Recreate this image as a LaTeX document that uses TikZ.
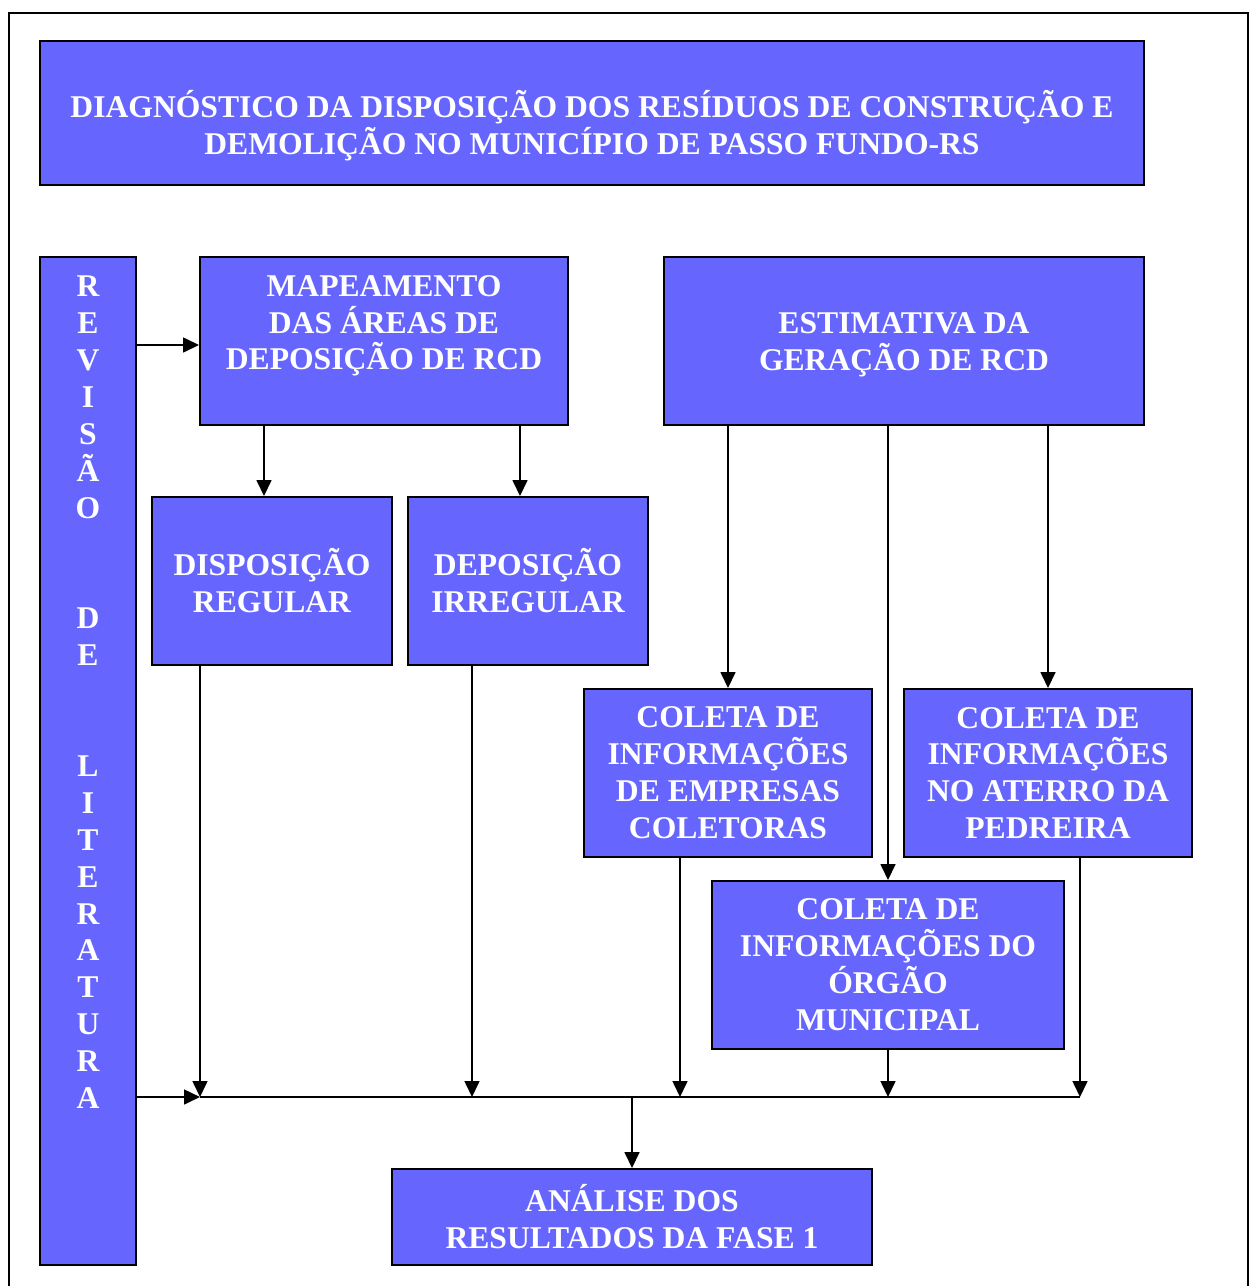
\documentclass[tikz,border=0pt]{standalone}
\usepackage{fontspec}
\setmainfont{Liberation Serif}
\usetikzlibrary{arrows.meta}
\definecolor{azul}{HTML}{6666FF}

\begin{document}
\begin{tikzpicture}[
    caixa/.style={fill=azul,draw=black,line width=1.1pt,text=white,align=center,inner sep=0pt,
        font=\fontsize{18}{21}\selectfont\bfseries},
    seta/.style={-{Triangle[length=0.32cm,width=0.3cm]},line width=0.9pt}]
            \useasboundingbox (0,0) rectangle (25,-25.72);
            \draw[line width=1.1pt] (0.18,-26.5) rectangle (24.96,-0.26);

            \node[caixa,minimum width=22.08cm,minimum height=2.88cm] (titulo) at (11.84,-2.26)
                {\rule{0pt}{30pt}DIAGNÓSTICO DA DISPOSIÇÃO DOS RESÍDUOS DE CONSTRUÇÃO E\\ DEMOLIÇÃO NO MUNICÍPIO DE PASSO FUNDO-RS};
            \node[caixa,minimum width=1.92cm,minimum height=20.16cm] (revisao) at (1.76,-15.22)
                {\rule{0pt}{17.5pt}R\\E\\V\\I\\S\\Ã\\O\\ \mbox{}\\ \mbox{}\\D\\E\\ \mbox{}\\ \mbox{}\\L\\I\\T\\E\\R\\A\\T\\U\\R\\A\\ \mbox{}\\ \mbox{}\\ \mbox{}\\ \mbox{}};
            \node[caixa,minimum width=7.36cm,minimum height=3.36cm] (mapeamento) at (7.68,-6.82)
                {MAPEAMENTO\\ DAS ÁREAS DE\\ DEPOSIÇÃO DE RCD\\ \mbox{}};
            \node[caixa,minimum width=9.6cm,minimum height=3.36cm] (estimativa) at (18.08,-6.82)
                {\rule{0pt}{16.5pt}ESTIMATIVA DA\\ GERAÇÃO DE RCD};
            \node[caixa,minimum width=4.8cm,minimum height=3.36cm] (disposicao) at (5.44,-11.62)
                {DISPOSIÇÃO\\ REGULAR};
            \node[caixa,minimum width=4.8cm,minimum height=3.36cm] (deposicao) at (10.56,-11.62)
                {DEPOSIÇÃO\\ IRREGULAR};
            \node[caixa,minimum width=5.76cm,minimum height=3.36cm] (empresas) at (14.56,-15.46)
                {COLETA DE\\ INFORMAÇÕES\\ DE EMPRESAS\\ COLETORAS};
            \node[caixa,minimum width=5.76cm,minimum height=3.36cm] (aterro) at (20.96,-15.46)
                {COLETA DE\\ INFORMAÇÕES\\ NO ATERRO DA\\ PEDREIRA};
            \node[caixa,minimum width=7.04cm,minimum height=3.36cm] (orgao) at (17.76,-19.3)
                {COLETA DE\\ INFORMAÇÕES DO\\ ÓRGÃO\\ MUNICIPAL};
            \node[caixa,minimum width=9.6cm,minimum height=1.92cm] (analise) at (12.64,-24.34)
                {ANÁLISE DOS\\ RESULTADOS DA FASE 1};

            \coordinate (barra) at (0,-21.94);

            \draw[seta] ([yshift=-0.08cm]revisao.east |- mapeamento.west) -- ([yshift=-0.08cm]mapeamento.west);
            \draw[seta] ([xshift=-2.4cm]mapeamento.south) -- ([xshift=-2.4cm]mapeamento.south |- disposicao.north);
            \draw[seta] ([xshift=2.72cm]mapeamento.south) -- ([xshift=2.72cm]mapeamento.south |- deposicao.north);
            \draw[seta] (empresas.north |- estimativa.south) -- (empresas.north);
            \draw[seta] (orgao.north |- estimativa.south) -- (orgao.north);
            \draw[seta] (aterro.north |- estimativa.south) -- (aterro.north);

            \draw[seta] (revisao.east |- barra) -- ([xshift=-1.44cm]disposicao.south |- barra);
            \draw[line width=0.9pt] ([xshift=-1.44cm]disposicao.south |- barra) -- ([xshift=0.64cm]aterro.south |- barra);
            \foreach \caixa/\dx in {disposicao/-1.44,deposicao/-1.12,empresas/-0.96,orgao/0,aterro/0.64}
                \draw[seta] ([xshift=\dx cm]\caixa.south) -- ([xshift=\dx cm]\caixa.south |- barra);
            \draw[seta] (analise.north |- barra) -- (analise.north);
        \end{tikzpicture}
\end{document}
